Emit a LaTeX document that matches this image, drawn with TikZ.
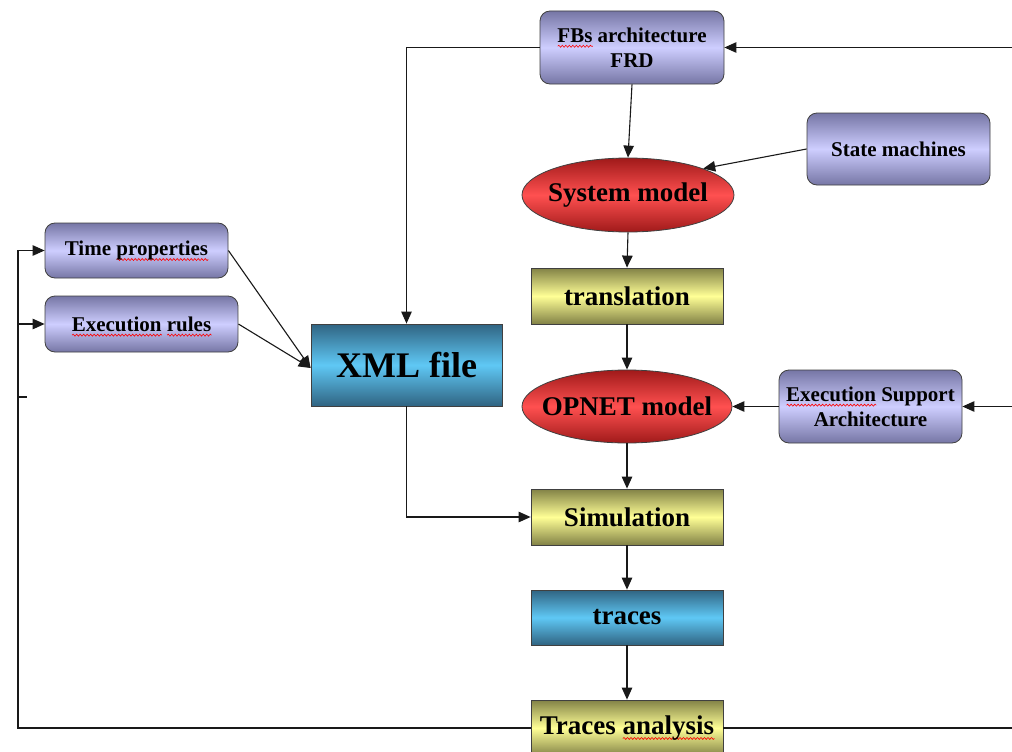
\documentclass[tikz,border=0pt]{standalone}
\usepackage{fontspec}
\setmainfont{Liberation Serif}
\usetikzlibrary{arrows.meta,shapes.geometric,calc,decorations.pathmorphing}
\newsavebox\wavebox
\newcommand\redwave[1]{\sbox\wavebox{#1}\rlap{\smash{\tikz[baseline=0pt,x=1pt,y=1pt,sharp corners]\draw[red,line width=0.6pt,sharp corners,decorate,decoration={snake,amplitude=1pt,segment length=3.5pt}] (0,-4) -- (\the\wd\wavebox,-4);}}\usebox\wavebox}
\newcommand\fsS{\fontsize{21}{25}\selectfont\bfseries}
\newcommand\fsM{\fontsize{27}{30}\selectfont\bfseries}
\newcommand\fsL{\fontsize{36}{40}\selectfont\bfseries}
\definecolor{lavd}{RGB}{118,118,165}
\definecolor{lavl}{RGB}{206,206,255}
\definecolor{yeld}{RGB}{130,130,70}
\definecolor{yell}{RGB}{255,255,150}
\definecolor{blued}{RGB}{48,100,130}
\definecolor{bluel}{RGB}{95,200,245}
\definecolor{redd}{RGB}{160,26,26}
\definecolor{redl}{RGB}{255,80,80}
\begin{document}
\begin{tikzpicture}[x=1pt,y=-1pt,
  conn/.style={line width=1.1pt, draw=black!90},
  arr/.style={conn,-{Triangle[length=12pt,width=10.5pt]}},
  lav/.style={draw=black!75, line width=0.8pt, rounded corners=10pt, top color=lavd, bottom color=lavd, middle color=lavl, align=center, inner sep=0pt, font=\fsS},
  yel/.style={draw=black!75, line width=0.8pt, top color=yeld, bottom color=yeld, middle color=yell, align=center, inner sep=0pt, font=\fsM},
  blu/.style={draw=black!75, line width=0.8pt, top color=blued, bottom color=blued, middle color=bluel, align=center, inner sep=0pt, font=\fsM},
  redel/.style={ellipse, draw=black!75, line width=0.8pt, top color=redd, bottom color=redd, middle color=redl, align=center, inner sep=0pt, font=\fsM}
]
\useasboundingbox (0,0) rectangle (1012,752);
\clip (0,0) rectangle (1012,752);
\fill[white] (0,0) rectangle (1012,752);

\node[lav, minimum width=184pt, minimum height=73pt] (fbs) at (632,47.5) {\redwave{FBs} architecture\\FRD};
\node[lav, minimum width=183pt, minimum height=72pt] (sm) at (898.5,149) {State machines};
\node[redel, minimum width=212pt, minimum height=74pt] (sys) at (628,195) {\makebox[0pt]{\raisebox{-3pt}{System model}}};
\node[yel, minimum width=192pt, minimum height=56pt] (tr) at (627,296) {translation};
\node[redel, minimum width=210pt, minimum height=73pt] (op) at (627,406.5) {\makebox[0pt]{\raisebox{-2pt}{OPNET model}}};
\node[lav, minimum width=183pt, minimum height=73pt] (esa) at (870.5,406.5) {\redwave{Execution} Support\\Architecture};
\node[yel, minimum width=192pt, minimum height=56pt] (sim) at (627,517) {Simulation};
\node[blu, minimum width=192pt, minimum height=55pt] (trc) at (627,617.5) {traces};
\node[yel, minimum width=192pt, minimum height=56pt] (ta) at (627,728) {Traces \redwave{analysis}};
\node[blu, minimum width=191pt, minimum height=82pt, font=\fsL] (xml) at (406.5,365) {XML file};
\node[lav, minimum width=183pt, minimum height=55pt] (tp) at (136.5,250.5) {Time \redwave{properties}};
\node[lav, minimum width=193pt, minimum height=56pt] (er) at (141.5,324) {\redwave{Execution} \redwave{rules}};

\coordinate (bl) at (18,728);
\coordinate (tl) at (18,250.5);
\coordinate (ml) at (18,324);
\coordinate (stub) at (18,397);
\coordinate (stubend) at (27,397);
\coordinate (rb) at (1012,728);
\coordinate (rt) at (1012,47.5);
\coordinate (rm) at (1012,406.5);
\coordinate (xin) at ($(xml.west)+(0,3)$);

\draw[arr] (ta.west) -- (bl) -- (tl) -- (tp.west);
\draw[arr] (ml) -- (er.west);
\draw[conn] (stub) -- (stubend);
\draw[conn] (ta.east) -- (rb);
\draw[arr] (rt) -- (fbs.east);
\draw[arr] (rm) -- (esa.east);
\draw[arr] (fbs.west) -| (xml.north);
\draw[arr] (fbs.south) -- (sys.north);
\draw[arr] (sm.west) -- (sys.north east);
\draw[arr] (sys.south) -- (tr.north);
\draw[arr] (tr.south) -- (op.north);
\draw[arr] (op.south) -- (sim.north);
\draw[arr] (sim.south) -- (trc.north);
\draw[arr] (trc.south) -- (ta.north);
\draw[arr] (esa.west) -- (op.east);
\draw[arr] (tp.east) -- (xin);
\draw[arr] (er.east) -- (xin);
\draw[arr] (xml.south) |- (sim.west);
\end{tikzpicture}
\end{document}
